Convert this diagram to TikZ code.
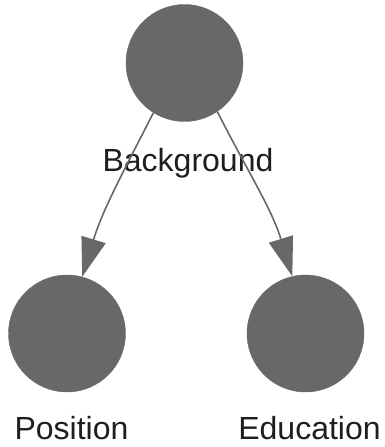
\documentclass[tikz,border=0pt]{standalone}
\usepackage{fontspec}
\setmainfont{Liberation Sans}
\usetikzlibrary{arrows.meta}
\definecolor{dotgray}{HTML}{686868}
\definecolor{labelink}{HTML}{1E1E1E}
\begin{document}
\begin{tikzpicture}[x=1pt,y=1pt,
  dot/.style={circle,fill=dotgray,draw=dotgray,minimum size=117pt,inner sep=0pt},
  lbl/.style={anchor=base,text=labelink,inner sep=0pt,font=\fontsize{32}{38}\selectfont},
  link/.style={draw=dotgray,line width=1.6pt,
    -{Triangle[length=39pt,width=25pt,fill=dotgray]}}]
  \useasboundingbox (0,0) rectangle (384,447);
  % three circles
  \node[dot] (bg) at (184.5,384) {};
  \node[dot] (pos) at (67,113.5) {};
  \node[dot] (edu) at (305.5,113.5) {};
  % labels below each circle
  \node[lbl] (bglbl) at (188,275) {Background};
  \node[lbl] (poslbl) at (71.5,7) {Position};
  \node[lbl] (edulbl) at (309.5,7) {Education};
  % curved connectors
  \draw[link] (bg.238) to[out=243,in=73] (pos.75);
  \draw[link] (bg.304) to[out=297,in=107] (edu.103);
\end{tikzpicture}
\end{document}
